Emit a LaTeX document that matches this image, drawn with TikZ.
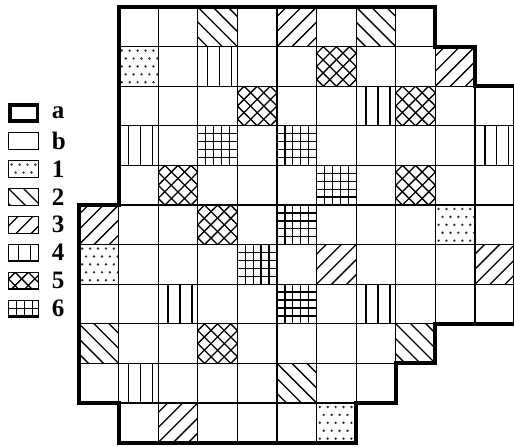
\documentclass[tikz,border=0pt]{standalone}
\usepackage{fontspec}
\setmainfont{Liberation Serif}
\usepackage{tikz}

% window that a fill pattern is clipped to (one grid cell)
\newcommand{\cellw}{1}
\newcommand{\cellh}{1}

\begin{document}
\begin{tikzpicture}[
  cell/.style={draw, line width=0.8pt},
  border/.style={draw, line width=3pt, line join=miter},
  hatch/.style={line width=0.95pt},
  keybox/.style={draw, line width=0.9pt},
  keylabel/.style={anchor=west, inner sep=0pt, font=\fontsize{18}{18}\selectfont\bfseries},
  pat1/.pic={\clip (0,0) rectangle (\cellw,-\cellh);
    \foreach \j in {0,...,4} \foreach \i in {0,...,4}
      \fill[black!80] ({0.08+0.2*\i+0.1*mod(\j,2)},{-0.1-0.2*\j}) circle[radius=0.034];},
  pat2/.pic={\clip (0,0) rectangle (\cellw,-\cellh);
    \foreach \t in {-0.76,-0.38,0,0.38,0.76} \draw[hatch] (\t-1,1) -- (\t+1,-1);},
  pat3/.pic={\clip (0,0) rectangle (\cellw,-\cellh);
    \foreach \t in {0.24,0.62,1,1.38,1.76} \draw[hatch] (\t+1,1) -- (\t-1,-1);},
  pat4/.pic={\clip (0,0) rectangle (\cellw,-\cellh);
    \foreach \x in {0.25,0.55,0.85} \draw[hatch] (\x,0.1) -- (\x,-1.1);},
  pat5/.pic={\clip (0,0) rectangle (\cellw,-\cellh);
    \foreach \t in {-0.83,-0.5,-0.17,0.17,0.5,0.83} {
      \draw[hatch] (\t-1,1) -- (\t+1,-1);
      \draw[hatch] (\t+2,1) -- (\t,-1);}},
  pat6/.pic={\clip (0,0) rectangle (\cellw,-\cellh);
    \foreach \v in {0.2,0.4,0.6,0.8} {
      \draw[hatch] (\v,0.1) -- (\v,-1.1);
      \draw[hatch] (-0.1,-\v) -- (1.1,-\v);}},
]
\useasboundingbox (-1.995,0.177) rectangle (10.985,-11.11);

% Fills (column/row/kind)
\foreach \c/\r/\p in {1/1/1, 9/5/1, 0/6/1, 6/10/1,
    3/0/2, 7/0/2, 0/8/2, 8/8/2, 5/9/2,
    5/0/3, 9/1/3, 0/5/3, 6/6/3, 10/6/3, 2/10/3,
    3/1/4, 7/2/4, 1/3/4, 10/3/4, 2/7/4, 7/7/4, 1/9/4,
    6/1/5, 4/2/5, 8/2/5, 2/4/5, 8/4/5, 3/5/5, 3/8/5,
    3/3/6, 5/3/6, 6/4/6, 5/5/6, 4/6/6, 5/7/6}
  \pic at (\c,-\r) {pat\p};

% Grid (row/first/last column)
\foreach \r/\a/\b in {0/1/8, 1/1/9, 2/1/10, 3/1/10, 4/1/10, 5/0/10,
    6/0/10, 7/0/10, 8/0/8, 9/0/7, 10/1/6}
  \foreach \c in {\a,...,\b}
    \draw[cell] (\c,-\r) rectangle ++(1,-1);

% Outline
\draw[border] (1,0) -- (9,0) -- (9,-1) -- (10,-1) -- (10,-2) -- (11,-2)
  -- (11,-8) -- (9,-8) -- (9,-9) -- (8,-9) -- (8,-10) -- (7,-10)
  -- (7,-11) -- (1,-11) -- (1,-10) -- (0,-10) -- (0,-5) -- (1,-5) -- cycle;

% Legend
\draw[keybox, line width=2.6pt] (-1.75,-2.48) rectangle ++(0.70,-0.40);
\node[keylabel] (key-a) at (-0.69,-2.68) {a};
\draw[keybox] (-1.78,{-2.68-0.705+0.21}) rectangle ++(0.76,-0.42);
\node[keylabel] (key-b) at (-0.69,{-2.68-0.705}) {b};
\foreach \p [count=\n] in {1,...,6} {
  \begin{scope}[shift={(-1.78,{-2.68-0.705*(\n+1)+0.21})}]
    \renewcommand{\cellw}{0.76}\renewcommand{\cellh}{0.42}
    \pic {pat\p};
    \draw[keybox] (0,0) rectangle (\cellw,-\cellh);
  \end{scope}
  \node[keylabel] (key-\p) at (-0.69,{-2.68-0.705*(\n+1)}) {\p};
}
\end{tikzpicture}
\end{document}
